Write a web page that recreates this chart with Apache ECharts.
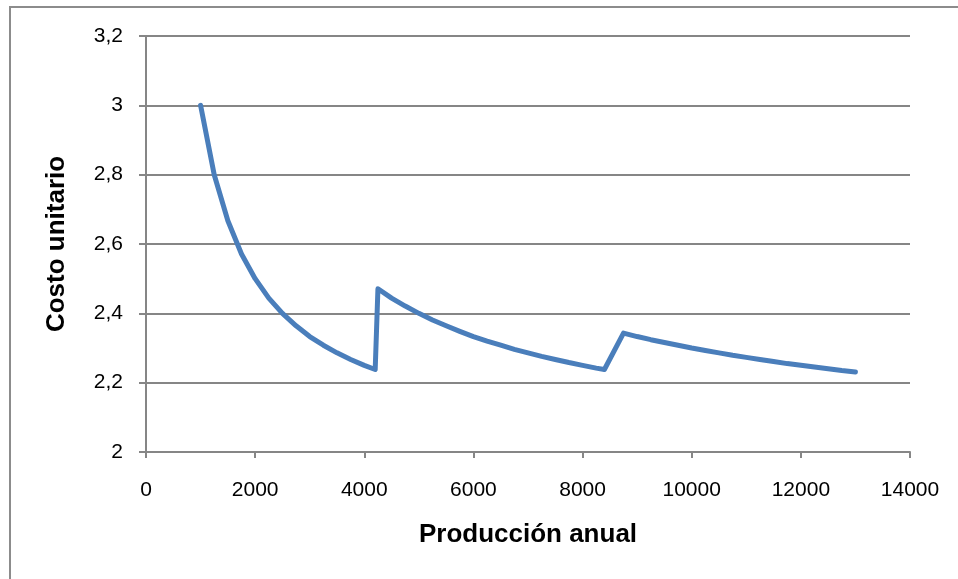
<!DOCTYPE html>
<html lang="es">
<head>
  <meta charset="UTF-8">
  <title>Costo unitario</title>
  <script src="https://cdn.jsdelivr.net/npm/echarts@6/dist/echarts.min.js"></script>
  <style type="text/css">
    html, body { margin: 0; padding: 0; background: #fff; }
    #frame {
      position: absolute; left: 9px; top: 6px; width: 960px; height: 580px;
      border-top: 2px solid #8c8c8c; border-left: 2px solid #8c8c8c;
    }
    #main { position: absolute; left: 0; top: 0; width: 958px; height: 579px; }
  </style>
</head>
<body>
  <div id="frame"></div>
  <div id="main"></div>
  <script type="text/javascript">
    // producción anual (x) y costo unitario (y)
    var produccion = [
      1000, 1250, 1500, 1750, 2000, 2250, 2500, 2750, 3000, 3250, 3500, 3750, 4000, 4200,
      4250, 4500, 4750, 5000, 5250, 5500, 5750, 6000, 6250, 6500, 6750, 7000, 7250, 7500, 7750, 8000, 8250, 8400,
      8750, 9000, 9250, 9500, 9750, 10000, 10250, 10500, 10750, 11000, 11250, 11500, 11750, 12000, 12250, 12500, 12750, 13000
    ];
    var costo = [
      3.000, 2.800, 2.667, 2.571, 2.500, 2.444, 2.400, 2.364, 2.333, 2.308, 2.286, 2.267, 2.250, 2.238,
      2.471, 2.444, 2.421, 2.400, 2.381, 2.364, 2.348, 2.333, 2.320, 2.308, 2.296, 2.286, 2.276, 2.267, 2.258, 2.250, 2.242, 2.238,
      2.343, 2.333, 2.324, 2.316, 2.308, 2.300, 2.293, 2.286, 2.279, 2.273, 2.267, 2.261, 2.255, 2.250, 2.245, 2.240, 2.235, 2.231
    ];

    var points = [];
    for (var i = 0; i < produccion.length; i++) {
      points.push([produccion[i], costo[i]]);
    }

    var chartDom = document.getElementById('main');
    var myChart = echarts.init(chartDom);
    var font = '"Liberation Sans", Arial, sans-serif';
    var axisGray = '#868686';

    var option = {
      animation: false,
      grid: { left: 146, right: 48, top: 36, bottom: 127 },
      xAxis: {
        type: 'value',
        min: 0, max: 14000, interval: 2000,
        name: 'Producción anual',
        nameLocation: 'middle',
        nameGap: 70,
        nameTextStyle: { fontFamily: font, fontSize: 26, fontWeight: 'bold', color: '#000' },
        axisLine: { show: true, lineStyle: { color: axisGray, width: 2 } },
        axisTick: { show: true, length: 6, lineStyle: { color: axisGray, width: 2 } },
        axisLabel: {
          fontFamily: font, fontSize: 21, color: '#000', margin: 28,
          formatter: function (v) { return String(v); }
        },
        splitLine: { show: false }
      },
      yAxis: {
        type: 'value',
        min: 2, max: 3.2, interval: 0.2,
        name: 'Costo unitario',
        nameLocation: 'middle',
        nameGap: 76,
        nameTextStyle: { fontFamily: font, fontSize: 26, fontWeight: 'bold', color: '#000' },
        axisLine: { show: true, lineStyle: { color: axisGray, width: 2 } },
        axisTick: { show: true, length: 7, lineStyle: { color: axisGray, width: 2 } },
        axisLabel: {
          fontFamily: font, fontSize: 21, color: '#000', margin: 23,
          formatter: function (v) {
            return String(Math.round(v * 10) / 10).replace('.', ',');
          }
        },
        splitLine: { show: true, lineStyle: { color: axisGray, width: 2 } }
      },
      series: [{
        type: 'line',
        data: points,
        showSymbol: false,
        smooth: false,
        lineStyle: { color: '#4a7ebb', width: 5, cap: 'round', join: 'round' }
      }]
    };
    myChart.setOption(option);
  </script>
</body>
</html>
